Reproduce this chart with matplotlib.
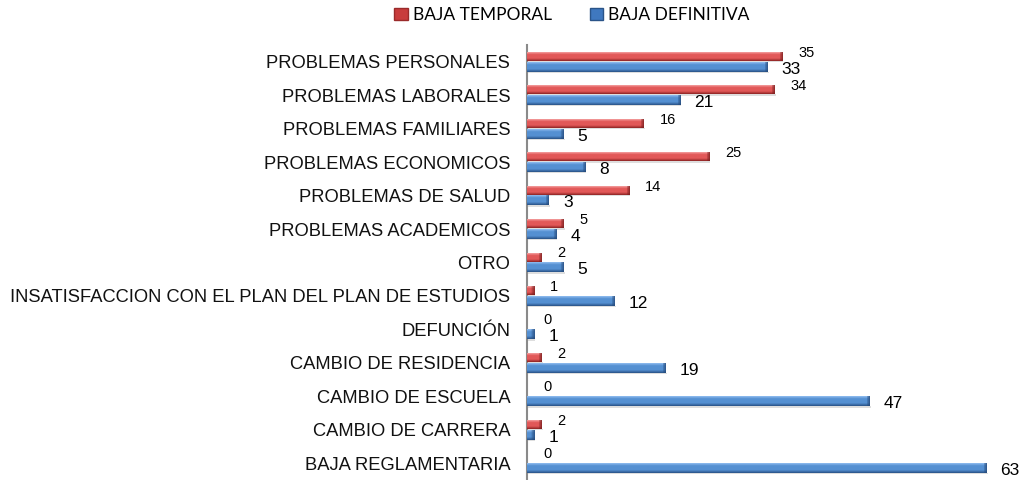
import numpy as np
import matplotlib
matplotlib.use("Agg")
import matplotlib.pyplot as plt
from matplotlib.colors import LinearSegmentedColormap, to_rgb
from matplotlib.patches import Patch

categories = [
    "PROBLEMAS PERSONALES",
    "PROBLEMAS LABORALES",
    "PROBLEMAS FAMILIARES",
    "PROBLEMAS ECONOMICOS",
    "PROBLEMAS DE SALUD",
    "PROBLEMAS ACADEMICOS",
    "OTRO",
    "INSATISFACCION CON EL PLAN DEL PLAN DE ESTUDIOS",
    "DEFUNCIÓN",
    "CAMBIO DE RESIDENCIA",
    "CAMBIO DE ESCUELA",
    "CAMBIO DE CARRERA",
    "BAJA REGLAMENTARIA",
]
baja_temporal = [35, 34, 16, 25, 14, 5, 2, 1, 0, 2, 0, 2, 0]
baja_definitiva = [33, 21, 5, 8, 3, 4, 5, 12, 1, 19, 47, 1, 63]
series_names = ["BAJA TEMPORAL", "BAJA DEFINITIVA"]

W, H, DPI = 1028, 480, 100
fig = plt.figure(figsize=(W / DPI, H / DPI), dpi=DPI)
ax = fig.add_axes([527 / W, 0.0, 1 - 527 / W, 435 / H])

XMAX = 68.7
ax.set_xlim(0, XMAX)
ax.set_ylim(len(categories) - 0.5, -0.5)

y = np.arange(len(categories))
red_main = "#de5050"
blue_main = "#4c84c8"

bars_r = ax.barh(y - 0.15, baja_temporal, height=0.25, color=red_main, zorder=2)
bars_b = ax.barh(y + 0.16, baja_definitiva, height=0.27, color=blue_main, zorder=2)

def grad_cmap(light, main, dark):
    return LinearSegmentedColormap.from_list(
        "g", [(0.0, light), (0.25, main), (0.7, main), (1.0, dark)])

cm_r = grad_cmap("#f4a0a0", "#e25858", "#8e2424")
cm_b = grad_cmap("#90bdf0", "#5590d2", "#2a5488")
cap_r = np.array(to_rgb("#7a1e1e"))
cap_b = np.array(to_rgb("#24497a"))

px_per_unit = (W - 527) / XMAX

def paint(bars, cmap, capcol):
    for rect in bars:
        x0, y0 = rect.get_x(), rect.get_y()
        w, h = rect.get_width(), rect.get_height()
        if w <= 0:
            continue
        ncol = max(int(round(w * px_per_unit)), 2)
        nrow = 24
        vals = np.linspace(0, 1, nrow)
        img = np.array([cmap(v)[:3] for v in vals])
        img = np.repeat(img[:, None, :], ncol, axis=1)
        k = min(3, ncol - 1)
        for j in range(k):
            a = 0.75 - 0.2 * j
            img[:, ncol - 1 - j, :] = img[:, ncol - 1 - j, :] * (1 - a) + capcol * a
        rect.set_alpha(0)
        ax.imshow(img, extent=(x0, x0 + w, y0 + h, y0), aspect="auto",
                  interpolation="bilinear", zorder=3)
        ax.add_patch(plt.Rectangle((x0 + 0.15, y0 + h), w, 0.04,
                                   color="#dedede", zorder=1, lw=0))

paint(bars_r, cm_r, cap_r)
paint(bars_b, cm_b, cap_b)

ax.set_xlim(0, XMAX)
ax.set_ylim(len(categories) - 0.5, -0.5)

for yi, v in zip(y, baja_temporal):
    ax.annotate(str(v), (v, yi - 0.15), xytext=(16, 4), textcoords="offset pixels",
                ha="left", va="center", fontsize=10.5, family="Liberation Sans",
                color="#000000", zorder=5)
for yi, v in zip(y, baja_definitiva):
    ax.annotate(str(v), (v, yi + 0.16), xytext=(14, -2), textcoords="offset pixels",
                ha="left", va="center", fontsize=12.5, family="Liberation Sans",
                color="#000000", zorder=5)

ax.set_yticks(y)
ax.set_yticklabels(categories, fontsize=13.2, family="Liberation Sans", color="#111111")
ax.tick_params(axis="y", length=0, pad=12)
ax.set_xticks([])
for s in ["top", "right", "bottom"]:
    ax.spines[s].set_visible(False)
ax.spines["left"].set_color("#8a8a8a")
ax.spines["left"].set_linewidth(1.5)
ax.patch.set_alpha(0)

handles = [Patch(facecolor="#c83c3c", edgecolor="#9a2a2a"),
           Patch(facecolor="#3f78bf", edgecolor="#2a5488")]
fig.legend(handles, series_names, loc="center", bbox_to_anchor=(572 / W, 1 - 15 / H),
           ncol=2, frameon=False, prop={"family": "Lato", "size": 12.5},
           handlelength=0.75, handleheight=0.75, handletextpad=0.3, columnspacing=2.2)

fig.savefig("out.png", dpi=DPI)
